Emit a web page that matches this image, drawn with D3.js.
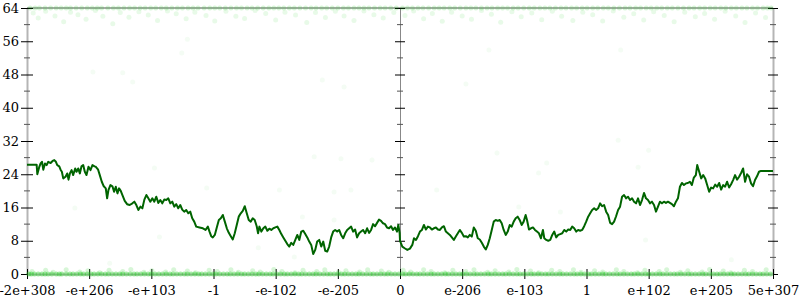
<!DOCTYPE html>
<html>
<head>
<meta charset="utf-8">
<script src="https://cdn.jsdelivr.net/npm/d3@7"></script>
<style>
  body { margin: 0; background: #fff; }
  svg { display: block; }
  text { font-family: "DejaVu Serif", serif; font-size: 13px; fill: #000; }
</style>
</head>
<body>
<div id="chart"></div>
<script>
// x positions are in "tick units": -6 .. 6, one unit per labelled tick
var xTickPos = [-6, -5, -4, -3, -2, -1, 0, 1, 2, 3, 4, 5, 6];
var xTickLabels = ["-2e+308", "-e+206", "-e+103", "-1", "-e-102", "-e-205", "0",
                   "e-206", "e-103", "1", "e+102", "e+205", "5e+307"];
var yMajor = [0, 8, 16, 24, 32, 40, 48, 56, 64];
var yMinor = [4, 12, 20, 28, 36, 44, 52, 60];

// running line
var lineX = [-6.00,-5.845,-5.834,-5.802,-5.781,-5.759,-5.738,-5.711,-5.684,-5.658,-5.620,-5.588,-5.561,-5.535,-5.513,-5.481,-5.460,-5.439,-5.417,-5.380,
  -5.353,-5.332,-5.310,-5.283,-5.257,-5.225,-5.203,-5.176,-5.150,-5.123,-5.096,-5.070,-5.043,-5.011,-4.979,-4.947,-4.914,-4.893,-4.856,-4.829,
  -4.797,-4.765,-4.733,-4.711,-4.690,-4.658,-4.626,-4.599,-4.572,-4.545,-4.519,-4.492,-4.465,-4.428,-4.390,-4.348,-4.305,-4.273,-4.241,-4.209,
  -4.176,-4.144,-4.112,-4.080,-4.048,-4.016,-3.984,-3.952,-3.920,-3.888,-3.856,-3.824,-3.791,-3.759,-3.727,-3.695,-3.663,-3.631,-3.599,-3.567,
  -3.535,-3.503,-3.471,-3.439,-3.406,-3.374,-3.342,-3.310,-3.278,-3.225,-3.171,-3.128,-3.091,-3.064,-3.037,-3.011,-2.979,-2.947,-2.914,-2.882,
  -2.850,-2.818,-2.786,-2.754,-2.722,-2.690,-2.658,-2.626,-2.594,-2.561,-2.529,-2.497,-2.465,-2.433,-2.401,-2.369,-2.337,-2.305,-2.283,-2.262,
  -2.230,-2.198,-2.166,-2.134,-2.102,-2.070,-2.037,-2.005,-1.973,-1.941,-1.909,-1.877,-1.845,-1.813,-1.781,-1.749,-1.717,-1.684,-1.652,-1.620,
  -1.588,-1.556,-1.524,-1.492,-1.460,-1.428,-1.396,-1.364,-1.332,-1.299,-1.267,-1.235,-1.203,-1.171,-1.139,-1.107,-1.075,-1.043,-1.011,-0.979,
  -0.947,-0.914,-0.882,-0.850,-0.818,-0.786,-0.754,-0.722,-0.690,-0.658,-0.626,-0.594,-0.561,-0.529,-0.497,-0.465,-0.433,-0.401,-0.369,-0.337,
  -0.305,-0.273,-0.241,-0.209,-0.176,-0.144,-0.112,-0.080,-0.048,-0.027,-0.005,
  0.000,0.037,0.075,0.118,0.160,0.198,0.225,0.257,0.289,0.321,0.353,0.385,0.417,0.449,0.481,0.513,0.545,0.578,0.610,0.642,
  0.674,0.706,0.738,0.770,0.802,0.834,0.866,0.898,0.930,0.963,0.995,1.027,1.059,1.091,1.123,1.155,1.187,1.219,1.251,1.283,
  1.316,1.348,1.380,1.412,1.444,1.476,1.508,1.540,1.572,1.604,1.636,1.668,1.701,1.733,1.765,1.797,1.829,1.861,1.893,1.925,
  1.957,1.989,2.021,2.043,2.075,2.107,2.139,2.171,2.203,2.235,2.267,2.299,2.321,2.353,2.385,2.417,2.449,2.481,2.513,2.545,
  2.578,2.610,2.642,2.674,2.706,2.738,2.770,2.802,2.834,2.866,2.898,2.930,2.963,2.995,3.027,3.059,3.091,3.123,3.155,3.187,
  3.219,3.251,3.283,3.316,3.348,3.380,3.412,3.444,3.476,3.508,3.540,3.572,3.604,3.636,3.668,3.701,3.733,3.765,3.797,3.829,
  3.861,3.893,3.925,3.957,3.989,4.021,4.053,4.086,4.118,4.150,4.182,4.214,4.246,4.278,4.310,4.342,4.374,4.406,4.439,4.471,
  4.503,4.535,4.567,4.599,4.631,4.663,4.695,4.727,4.759,4.781,4.813,4.845,4.877,4.909,4.941,4.973,5.005,5.037,5.070,5.102,
  5.134,5.166,5.198,5.230,5.262,5.294,5.326,5.358,5.390,5.422,5.455,5.487,5.519,5.551,5.583,5.615,5.647,5.679,5.711,5.743,
  5.775,5.807,6.000];
var lineY = [26.3,26.3,24.0,25.8,26.6,27.0,25.1,26.6,26.2,27.0,26.7,27.2,27.4,27.0,26.2,25.9,25.1,24.6,23.0,23.4,
  24.2,22.7,24.2,25.0,23.8,25.4,24.6,25.4,24.2,25.9,26.2,24.6,23.8,25.8,25.0,26.2,25.9,25.8,25.1,23.8,
  22.2,21.1,20.6,18.2,20.2,21.4,21.1,19.8,21.0,19.4,20.6,20.0,19.0,17.6,16.8,16.6,17.0,17.4,16.6,15.4,
  16.2,15.8,17.9,19.0,18.2,17.4,18.2,17.4,18.6,17.1,17.8,17.0,17.9,17.8,18.2,17.0,17.4,16.2,16.8,15.8,
  16.6,15.5,15.0,15.4,14.6,15.0,13.4,12.6,11.4,11.2,11.0,10.6,11.4,10.2,9.1,8.8,9.4,11.2,13.0,13.4,
  14.2,12.6,11.0,9.9,9.1,8.3,9.8,11.8,13.8,14.6,15.2,16.3,14.6,13.0,12.6,13.4,13.0,11.5,9.8,11.4,
  10.2,11.0,11.4,10.4,10.9,10.6,11.0,11.2,11.4,10.6,9.6,8.8,8.0,7.2,6.6,7.5,7.0,8.2,9.4,8.2,
  10.2,10.4,9.6,8.8,7.8,7.0,4.8,5.8,7.8,8.2,6.6,7.8,5.6,5.4,6.6,8.8,10.2,10.6,10.2,10.6,
  9.4,8.6,9.8,10.6,11.0,11.4,10.2,10.7,8.8,9.8,10.2,10.6,9.8,11.0,9.9,10.6,12.0,11.5,12.3,13.1,
  12.8,12.2,12.0,11.2,11.0,11.5,10.6,11.2,10.2,11.8,9.8,
  8.0,6.6,6.2,5.8,6.1,7.0,8.6,8.2,9.1,10.2,10.6,11.8,10.7,11.4,11.2,10.7,11.0,11.2,10.7,10.6,
  11.2,11.5,10.2,9.8,9.4,8.8,8.2,9.0,9.8,10.6,9.9,9.0,9.1,8.8,9.4,9.0,11.2,10.4,8.6,8.3,
  7.5,6.6,5.9,7.0,8.6,10.6,12.6,13.0,12.8,13.0,12.2,10.6,9.4,10.2,11.8,11.4,12.6,13.4,13.8,13.0,
  11.8,12.6,14.2,13.0,10.7,11.0,11.2,10.6,10.2,9.8,8.6,10.6,8.6,8.2,8.0,8.2,9.4,10.2,8.8,9.4,
  9.6,9.8,10.6,10.2,10.7,10.6,11.4,11.0,10.2,10.6,10.4,10.6,11.5,12.6,13.8,14.6,15.4,15.8,15.4,15.8,
  17.0,16.3,16.6,15.0,14.2,12.3,12.0,12.6,13.9,15.4,16.2,18.6,19.0,18.2,18.6,17.8,18.2,17.4,17.0,18.2,
  16.6,17.8,19.5,18.2,17.8,17.0,17.4,16.6,15.0,16.2,17.4,17.0,17.4,17.1,17.4,17.1,16.8,16.3,17.4,18.2,
  21.0,21.9,21.4,21.8,21.9,22.2,21.4,23.2,23.8,26.2,24.6,23.0,23.8,23.0,21.4,19.8,20.8,20.6,21.5,21.0,
  21.9,20.3,21.4,21.0,22.2,20.8,21.6,22.6,23.8,22.7,23.4,24.3,25.4,22.2,24.0,23.4,21.8,21.1,22.6,23.5,
  24.6,24.8,24.8];

// faint sample dots
var topRowX = [-5.95,-5.8,-5.62,-5.45,-5.3,-5.12,-4.95,-4.8,-4.61,-4.44,-4.27,-4.1,-3.93,-3.76,-3.58,-3.41,-3.25,-3.06,-2.9,-2.72,
  -2.55,-2.38,-2.2,-2.03,-1.87,-1.7,-1.52,-1.35,-1.18,-1.0,-0.83,-0.66,-0.5,-0.32,-0.15,0.04,0.2,0.37,0.55,0.71,
  0.88,1.06,1.22,1.4,1.57,1.73,1.9,2.08,2.25,2.41,2.59,2.76,2.93,3.1,3.27,3.44,3.62,3.79,3.96,4.13,
  4.3,4.47,4.65,4.82,4.99,5.16,5.33,5.5,5.67,5.84,5.97];
var topRowX2 = [-5.87,-5.71,-5.53,-5.37,-5.21,-5.03,-4.87,-4.7,-4.53,-4.35,-4.18,-4.01,-3.84,-3.67,-3.5,-3.33,-3.15,-2.98,-2.81,-2.63,
  -2.46,-2.29,-2.11,-1.95,-1.78,-1.61,-1.43,-1.26,-1.09,-0.91,-0.74,-0.58,-0.41,-0.24,-0.06,0.12,0.29,0.46,0.63,0.8,
  0.97,1.14,1.31,1.48,1.65,1.82,1.99,2.16,2.33,2.5,2.67,2.84,3.01,3.18,3.35,3.53,3.7,3.87,4.04,4.21,
  4.38,4.56,4.73,4.9,5.07,5.24,5.41,5.58,5.75,5.91];
var topScatter = [[-5.9,62.8],[-5.82,61.6],[-5.7,63.2],[-5.55,62.1],[-5.41,60.7],[-5.3,63.0],[-5.18,62.4],[-5.05,61.3],[-4.9,63.4],[-4.78,62.0],
  [-4.62,60.2],[-4.5,62.9],[-4.36,61.8],[-4.2,63.1],[-4.05,62.3],[-3.9,61.0],[-3.74,63.3],[-3.6,62.6],[-3.44,61.4],[-3.3,63.0],
  [-3.12,62.2],[-2.98,60.9],[-2.8,63.2],[-2.64,62.0],[-2.5,61.5],[-2.33,63.4],[-2.16,62.7],[-2.0,61.1],[-1.85,63.0],[-1.68,62.3],
  [-1.5,60.5],[-1.36,62.9],[-1.2,61.7],[-1.04,63.2],[-0.9,62.1],[-0.74,61.0],[-0.58,63.3],[-0.42,62.4],[-0.27,61.6],[-0.1,62.9],
  [0.08,62.2],[0.22,63.3],[0.38,61.4],[0.52,62.7],[0.68,60.8],[0.83,63.0],[1.0,62.1],[1.15,61.3],[1.31,63.4],[1.47,62.5],
  [1.62,60.6],[1.8,63.1],[1.95,61.9],[2.12,62.8],[2.28,61.2],[2.45,63.2],[2.6,62.0],[2.78,61.0],[2.94,63.0],[3.1,62.4],
  [3.26,60.9],[3.43,63.3],[3.6,61.8],[3.76,62.6],[3.92,61.1],[4.08,63.1],[4.25,62.2],[4.41,60.7],[4.58,63.0],[4.75,61.9],
  [4.9,62.7],[5.06,61.3],[5.23,63.2],[5.4,62.1],[5.55,60.5],[5.72,62.8],[5.88,61.7]];
var strayDots = [[-4.94,48.6],[-4.46,48.4],[-4.30,46.2],[-3.51,53.2],[-3.42,56.5],[-1.25,46.7],[-0.90,45.0],[1.06,45.7],[1.43,53.9],[3.55,53.9],
  [-3.95,25.5],[-5.23,15.9],[-3.11,20.7],[-3.87,8.9],[-2.28,6.3],[-1.38,28.2],[-0.95,27.7],[-0.45,27.4],[-1.94,20.2],[-1.06,19.7],
  [-0.79,20.2],[-1.57,13.7],[-1.06,13.0],[-1.70,4.1],[-4.67,2.6],[1.56,29.1],[2.36,26.7],[2.23,24.3],[0.59,20.2],[1.91,16.1],
  [2.58,14.9],[3.83,25.7],[4.00,29.8],[3.51,32.2],[3.95,8.2],[5.33,3.4]];
var bottomRowX = [-5.97,-5.88,-5.76,-5.66,-5.53,-5.44,-5.31,-5.2,-5.09,-4.97,-4.86,-4.74,-4.63,-4.51,-4.4,-4.28,-4.17,-4.05,-3.94,-3.82,
  -3.7,-3.59,-3.47,-3.36,-3.24,-3.13,-3.01,-2.9,-2.78,-2.67,-2.55,-2.44,-2.32,-2.21,-2.09,-1.98,-1.86,-1.75,-1.63,-1.52,
  -1.4,-1.29,-1.17,-1.06,-0.94,-0.83,-0.71,-0.6,-0.48,-0.37,-0.25,-0.14,-0.02,0.09,0.21,0.32,0.44,0.55,0.67,0.78,
  0.9,1.01,1.13,1.24,1.36,1.47,1.59,1.7,1.82,1.93,2.05,2.16,2.28,2.39,2.51,2.62,2.74,2.85,2.97,3.08,
  3.2,3.31,3.43,3.54,3.66,3.77,3.89,4.0,4.12,4.23,4.35,4.46,4.58,4.69,4.81,4.92,5.04,5.15,5.27,5.38,
  5.5,5.61,5.73,5.84,5.96];
var bottomRowX2 = [-5.93,-5.82,-5.71,-5.6,-5.48,-5.37,-5.26,-5.14,-5.03,-4.92,-4.8,-4.69,-4.57,-4.46,-4.34,-4.23,-4.11,-4.0,-3.88,-3.76,
  -3.65,-3.53,-3.42,-3.3,-3.19,-3.07,-2.96,-2.84,-2.73,-2.61,-2.5,-2.38,-2.27,-2.15,-2.04,-1.92,-1.81,-1.69,-1.58,-1.46,
  -1.35,-1.23,-1.12,-1.0,-0.89,-0.77,-0.66,-0.54,-0.43,-0.31,-0.2,-0.08,0.04,0.15,0.27,0.38,0.5,0.61,0.73,0.84,
  0.96,1.07,1.19,1.3,1.42,1.53,1.65,1.76,1.88,1.99,2.11,2.22,2.34,2.45,2.57,2.68,2.8,2.91,3.03,3.14,
  3.26,3.37,3.49,3.6,3.72,3.83,3.95,4.06,4.18,4.29,4.41,4.52,4.64,4.75,4.87,4.98,5.1,5.21,5.33,5.44,
  5.56,5.67,5.79,5.9];
var bottomScatter = [[-5.92,0.6],[-5.7,0.9],[-5.58,0.4],[-5.37,1.0],[-5.15,0.5],[-5.02,0.8],[-4.83,0.3],[-4.68,0.9],[-4.46,0.6],[-4.33,1.1],
  [-4.12,0.4],[-3.99,0.8],[-3.77,0.5],[-3.64,1.0],[-3.42,0.7],[-3.29,0.3],[-3.07,0.9],[-2.94,0.6],[-2.72,1.0],[-2.6,0.4],
  [-2.37,0.8],[-2.25,0.5],[-2.03,1.1],[-1.9,0.6],[-1.69,0.3],[-1.56,0.9],[-1.34,0.6],[-1.21,1.0],[-0.99,0.4],[-0.87,0.8],
  [-0.65,0.5],[-0.52,1.0],[-0.3,0.7],[-0.18,0.4],[0.05,0.9],[0.17,0.5],[0.38,1.0],[0.5,0.6],[0.72,0.3],[0.85,0.9],
  [1.06,0.6],[1.19,1.0],[1.41,0.4],[1.53,0.8],[1.75,0.5],[1.88,1.1],[2.1,0.7],[2.23,0.3],[2.44,0.9],[2.57,0.6],
  [2.79,1.0],[2.91,0.4],[3.13,0.8],[3.26,0.5],[3.48,1.0],[3.6,0.6],[3.82,0.3],[3.94,0.9],[4.17,0.6],[4.29,1.0],
  [4.51,0.4],[4.63,0.8],[4.86,0.5],[4.98,1.1],[5.2,0.7],[5.32,0.3],[5.54,0.9],[5.67,0.6],[5.89,1.0]];

var width = 800, height = 300;
var plotLeft = 27, plotRight = 773, plotTop = 8, plotBottom = 274;

var x = d3.scaleLinear().domain([-6, 6]).range([plotLeft, plotRight]);
var y = d3.scaleLinear().domain([0, 64]).range([plotBottom, plotTop]);

var svg = d3.select("#chart").append("svg")
    .attr("width", width)
    .attr("height", height);

// top frame line
svg.append("line")
    .attr("x1", x(-6)).attr("x2", x(6))
    .attr("y1", y(64)).attr("y2", y(64))
    .attr("stroke", "#aaa").attr("stroke-width", 2);

// minor ticks for left/right/center axes
function minorTicks(xpos, len, color) {
  svg.append("g").selectAll("line").data(yMinor).enter().append("line")
    .attr("x1", xpos - len).attr("x2", xpos + len)
    .attr("y1", function(d) { return y(d); })
    .attr("y2", function(d) { return y(d); })
    .attr("stroke", color);
}

// left axis with labels
var gl = svg.append("g")
    .attr("transform", "translate(" + x(-6) + ",0)")
    .call(d3.axisLeft(y).tickValues(yMajor).tickSize(6).tickSizeOuter(0).tickPadding(2).tickFormat(d3.format("d")));
gl.select(".domain").attr("stroke", "#b5b5b5").attr("stroke-width", 2);
gl.selectAll(".tick line").attr("x2", -6).attr("x1", 6).attr("stroke", "#000");
gl.selectAll(".tick text").style("font-family", "DejaVu Serif").style("font-size", "13px");
minorTicks(x(-6), 3, "#555");

// right axis, no labels
var gr = svg.append("g")
    .attr("transform", "translate(" + x(6) + ",0)")
    .call(d3.axisRight(y).tickValues(yMajor).tickSize(5).tickSizeOuter(0).tickFormat(""));
gr.select(".domain").attr("stroke", "#b5b5b5").attr("stroke-width", 2);
gr.selectAll(".tick line").attr("x1", -5).attr("stroke", "#000");
minorTicks(x(6), 3, "#555");

// centre axis at 0
var gc = svg.append("g")
    .attr("transform", "translate(" + x(0) + ",0)")
    .call(d3.axisRight(y).tickValues(yMajor).tickSize(5).tickSizeOuter(0).tickFormat(""));
gc.select(".domain").attr("stroke", "#888").attr("stroke-width", 1);
gc.selectAll(".tick line").attr("x1", -5).attr("stroke", "#000");
minorTicks(x(0), 3, "#555");

// bottom axis
var gb = svg.append("g")
    .attr("transform", "translate(0," + y(0) + ")")
    .call(d3.axisBottom(x).tickValues(xTickPos).tickSize(5).tickSizeOuter(0).tickPadding(7)
      .tickFormat(function(d, i) { return xTickLabels[i]; }));
gb.select(".domain").attr("stroke", "#b5b5b5").attr("stroke-width", 2);
gb.selectAll(".tick line").attr("y1", -5).attr("stroke", "#000");
gb.selectAll(".tick text").style("font-family", "DejaVu Serif").style("font-size", "13px");

// dots
var dots = svg.append("g");
function drawDots(data, op) {
  dots.append("g").selectAll("circle").data(data).enter().append("circle")
    .attr("cx", function(d) { return x(d[0]); })
    .attr("cy", function(d) { return y(d[1]); })
    .attr("r", 2.5)
    .attr("fill", "#22cc22")
    .attr("fill-opacity", op);
}
drawDots(topRowX.map(function(v) { return [v, 64]; }), 0.18);
drawDots(topRowX2.map(function(v) { return [v, 64]; }), 0.18);
drawDots(topScatter, 0.1);
drawDots(strayDots, 0.05);
drawDots(bottomRowX.map(function(v) { return [v, 0]; }), 0.4);
drawDots(bottomRowX2.map(function(v) { return [v, 0]; }), 0.4);
drawDots(bottomScatter, 0.18);

// the line
var line = d3.line()
    .x(function(d) { return x(d[0]); })
    .y(function(d) { return y(d[1]); });

svg.append("path")
    .datum(lineX.map(function(v, i) { return [v, lineY[i]]; }))
    .attr("d", line)
    .attr("fill", "none")
    .attr("stroke", "#006400")
    .attr("stroke-width", 2)
    .attr("stroke-linejoin", "round");
</script>
</body>
</html>
